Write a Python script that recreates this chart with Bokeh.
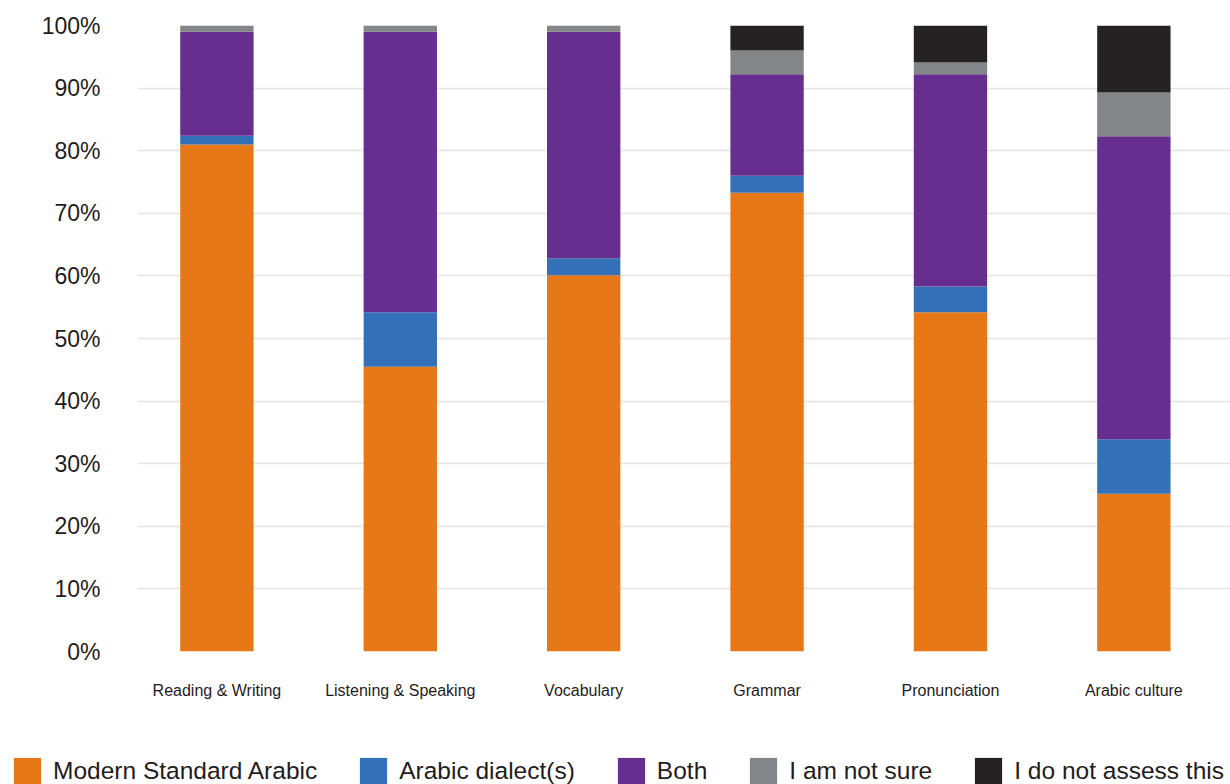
from bokeh.plotting import figure
from bokeh.layouts import column
from bokeh.models import (Range1d, FixedTicker, PrintfTickFormatter, Legend,
                          LegendItem, ColumnDataSource)
from bokeh.embed import file_html
from bokeh.resources import INLINE

categories = ["Reading & Writing", "Listening & Speaking", "Vocabulary",
              "Grammar", "Pronunciation", "Arabic culture"]
series_names = ["Modern Standard Arabic", "Arabic dialect(s)", "Both",
                "I am not sure", "I do not assess this"]
msa = [81.0, 45.5, 60.1, 73.3, 54.2, 25.2]
dialect = [1.4, 8.7, 2.7, 2.7, 4.1, 8.7]
both = [16.6, 44.8, 36.2, 16.2, 33.9, 48.4]
not_sure = [1.0, 1.0, 1.0, 3.8, 1.9, 7.0]
not_assessed = [0.0, 0.0, 0.0, 4.0, 5.9, 10.7]
y_ticks = [0, 10, 20, 30, 40, 50, 60, 70, 80, 90, 100]
colors = ["#E67817", "#3370B7", "#662F8F", "#848588", "#252223"]

FONT = "Liberation Sans"
TEXT = "#1f1c1d"

xs = list(range(len(categories)))
keys = ["msa", "dialect", "both", "not_sure", "not_assessed"]
source = ColumnDataSource(dict(x=xs, msa=msa, dialect=dialect, both=both,
                               not_sure=not_sure, not_assessed=not_assessed))

p = figure(width=1230, height=725,
           x_range=Range1d(-0.433, 5.527), y_range=Range1d(0, 100),
           output_backend="svg", toolbar_location=None,
           min_border_left=137, min_border_right=0,
           min_border_top=25, min_border_bottom=74)
p.outline_line_color = None
p.background_fill_color = "white"
p.border_fill_color = "white"
p.frame_align = False

renderers = p.vbar_stack(keys, x="x", width=0.4, color=colors,
                         line_width=0, source=source)

# axes
p.xaxis.ticker = FixedTicker(ticks=xs)
p.xaxis.major_label_overrides = {i: c for i, c in zip(xs, categories)}
p.yaxis.ticker = FixedTicker(ticks=y_ticks)
p.yaxis.formatter = PrintfTickFormatter(format="%d%%")
for ax in (p.xaxis, p.yaxis):
    ax.axis_line_color = None
    ax.major_tick_line_color = None
    ax.minor_tick_line_color = None
    ax.major_tick_out = 0
    ax.major_tick_in = 0
    ax.major_label_text_font = FONT
    ax.major_label_text_color = TEXT
p.xaxis.major_label_text_font_size = "16px"
p.xaxis.major_label_standoff = 30
p.yaxis.major_label_text_font_size = "23px"
p.yaxis.major_label_standoff = 37

p.xgrid.grid_line_color = None
p.ygrid.grid_line_color = "#e4e4e4"
p.ygrid.grid_line_width = 1.6

# legend strip below the chart (its own frame spans the full width)
lf = figure(width=1230, height=59, x_range=Range1d(0, 1), y_range=Range1d(0, 1),
            output_backend="svg", toolbar_location=None,
            min_border=0, min_border_left=0, min_border_right=0,
            min_border_top=0, min_border_bottom=0)
lf.axis.visible = False
lf.grid.visible = False
lf.outline_line_color = None
lf.frame_align = False
legend_renderers = lf.vbar_stack(keys, x="x", width=0.4, color=colors,
                                 line_width=0, source=source, visible=False)

legend = Legend(
    items=[LegendItem(label=n, renderers=[r])
           for n, r in zip(series_names, legend_renderers)],
    location=(10, -4), orientation="horizontal",
    glyph_width=34, glyph_height=34, label_standoff=9, spacing=39,
    padding=0, margin=0, border_line_color=None, background_fill_alpha=0,
    label_text_font=FONT, label_text_font_size="24.5px", label_text_color=TEXT,
)
lf.add_layout(legend, "center")

layout = column(p, lf, spacing=0)
open("out.html", "w").write(file_html(layout, INLINE))
